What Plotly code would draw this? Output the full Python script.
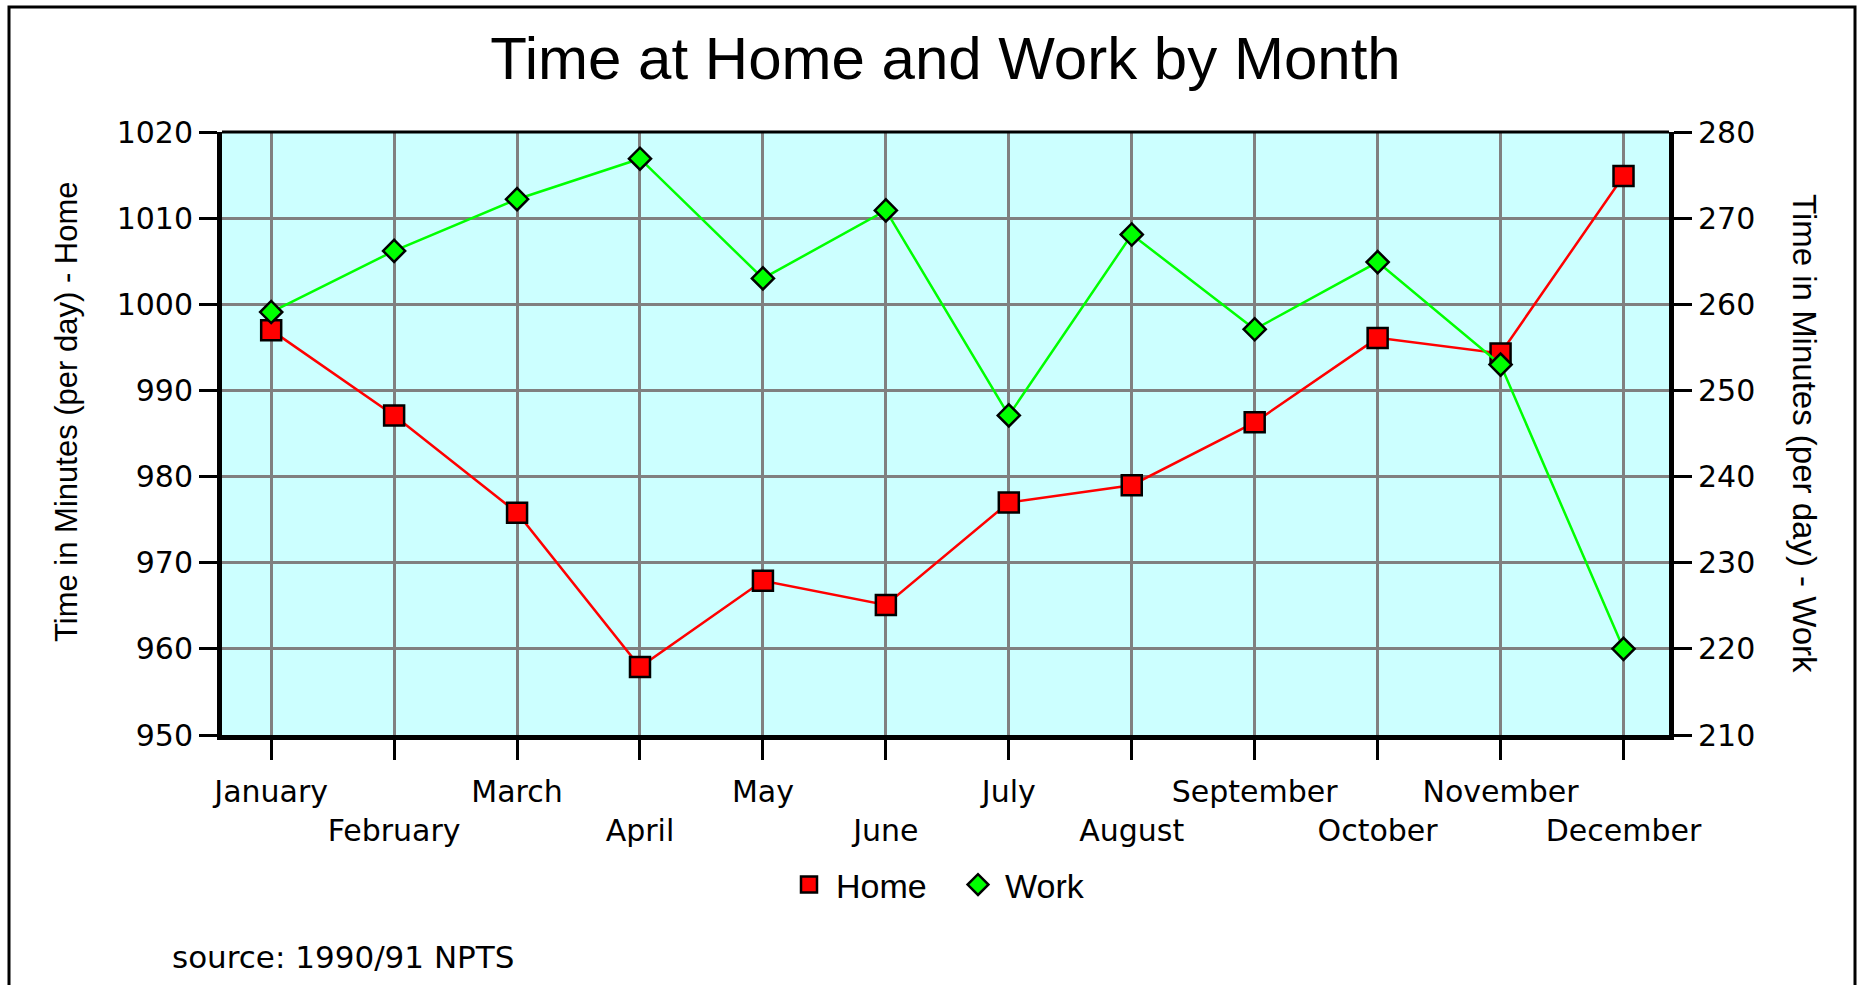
import plotly.graph_objects as go

# data
months = ["January", "February", "March", "April", "May", "June",
          "July", "August", "September", "October", "November", "December"]
home_minutes = [997.0, 987.1, 975.8, 957.9, 967.9, 965.1,
                977.0, 979.0, 986.3, 996.1, 994.3, 1014.9]
work_minutes = [259.1, 266.2, 272.2, 276.9, 263.0, 270.9,
                247.1, 268.1, 257.1, 264.9, 253.0, 220.0]
home_ticks = [950, 960, 970, 980, 990, 1000, 1010, 1020]
work_ticks = [210, 220, 230, 240, 250, 260, 270, 280]

# staggered month labels: every second one drops to a second row
month_labels = [m if i % 2 == 0 else "<br>" + m for i, m in enumerate(months)]

W, H = 1863, 985
L, R, T, B = 222, 194, 132, 250
PW, PH = W - L - R, H - T - B


def px_x(x):
    # page pixel -> paper coordinate
    return (x - L) / PW


def px_y(y):
    return (H - B - y) / PH


TITLE_FONT = "Liberation Sans, Arial, sans-serif"
TICK_FONT = "DejaVu Sans, Verdana, sans-serif"
tick_font = dict(family=TICK_FONT, size=30, color="black")

home_marker = dict(symbol="square", size=20, color="#ff0000",
                   line=dict(color="black", width=2.5))
work_marker = dict(symbol="diamond", size=17, color="#00ff00",
                   line=dict(color="black", width=2.5))

fig = go.Figure()

fig.add_trace(go.Scatter(
    x=months, y=home_minutes, name="Home", mode="lines+markers",
    line=dict(color="#ff0000", width=2.5), marker=home_marker,
    legendgroup="home", showlegend=False, yaxis="y"))

fig.add_trace(go.Scatter(
    x=months, y=work_minutes, name="Work", mode="lines+markers",
    line=dict(color="#00ff00", width=2.5), marker=work_marker,
    legendgroup="work", showlegend=False, yaxis="y2"))

# legend entries show the marker only, like the original
fig.add_trace(go.Scatter(x=[None], y=[None], name="Home", mode="markers",
                         marker=home_marker, legendgroup="home"))
fig.add_trace(go.Scatter(x=[None], y=[None], name="Work", mode="markers",
                         marker=work_marker, legendgroup="work", yaxis="y2"))

fig.update_layout(
    width=W, height=H,
    margin=dict(l=L, r=R, t=T, b=B),
    paper_bgcolor="white",
    plot_bgcolor="#ccffff",
    title=dict(text="Time at Home and Work by Month",
               font=dict(family=TITLE_FONT, size=60, color="black"),
               x=0.5, xref="paper", xanchor="center",
               y=1 - 58 / H, yref="container", yanchor="middle"),
    xaxis=dict(type="category", tickmode="array", tickvals=months, ticktext=month_labels,
               tickangle=0, ticklabelstandoff=6,
               range=[-0.4, 11.37], showgrid=True, gridcolor="#808080", gridwidth=3,
               showline=True, linecolor="black", linewidth=5,
               ticks="outside", ticklen=20, tickwidth=3, tickcolor="black",
               tickfont=tick_font, zeroline=False),
    yaxis=dict(range=[950, 1020], tickmode="array", tickvals=home_ticks,
               showgrid=True, gridcolor="#808080", gridwidth=3,
               showline=True, linecolor="black", linewidth=5,
               ticks="outside", ticklen=18, tickwidth=3, tickcolor="black",
               tickfont=tick_font, zeroline=False),
    yaxis2=dict(range=[210, 280], tickmode="array", tickvals=work_ticks,
                overlaying="y", side="right", showgrid=False,
                showline=True, linecolor="black", linewidth=5,
                ticks="outside", ticklen=18, tickwidth=3, tickcolor="black",
                tickfont=tick_font, zeroline=False),
    legend=dict(orientation="h", x=px_x(951), xanchor="center",
                y=px_y(885), yanchor="middle",
                font=dict(family=TITLE_FONT, size=34, color="black"),
                itemwidth=44, entrywidth=110, bgcolor="rgba(0,0,0,0)"),
    showlegend=True,
)

# axis titles
fig.add_annotation(text="Time in Minutes (per day) - Home", textangle=-90,
                   x=px_x(66), y=px_y(412), xref="paper", yref="paper",
                   showarrow=False, xanchor="center", yanchor="middle",
                   font=dict(family=TITLE_FONT, size=31, color="black"))
fig.add_annotation(text="Time in Minutes (per day) - Work", textangle=90,
                   x=px_x(1804), y=px_y(433), xref="paper", yref="paper",
                   showarrow=False, xanchor="center", yanchor="middle",
                   font=dict(family=TITLE_FONT, size=33, color="black"))

# source note
fig.add_annotation(text="source: 1990/91 NPTS",
                   x=px_x(170), y=px_y(957), xref="paper", yref="paper",
                   showarrow=False, xanchor="left", yanchor="middle",
                   font=dict(family=TICK_FONT, size=31, color="black"))

# thin top frame line of the plot area and the outer border
fig.add_shape(type="line", xref="paper", yref="paper", x0=0, x1=1, y0=1, y1=1,
              line=dict(color="black", width=3))
fig.add_shape(type="rect", xref="paper", yref="paper",
              x0=px_x(9), x1=px_x(1855), y0=px_y(7), y1=px_y(1000),
              line=dict(color="black", width=3), fillcolor="rgba(0,0,0,0)",
              layer="below")

# drop the browser's default body margin so the figure fills the window exactly
fig.write_html("out.html", config={"displayModeBar": False},
               post_script="document.body.style.margin = '0';")
